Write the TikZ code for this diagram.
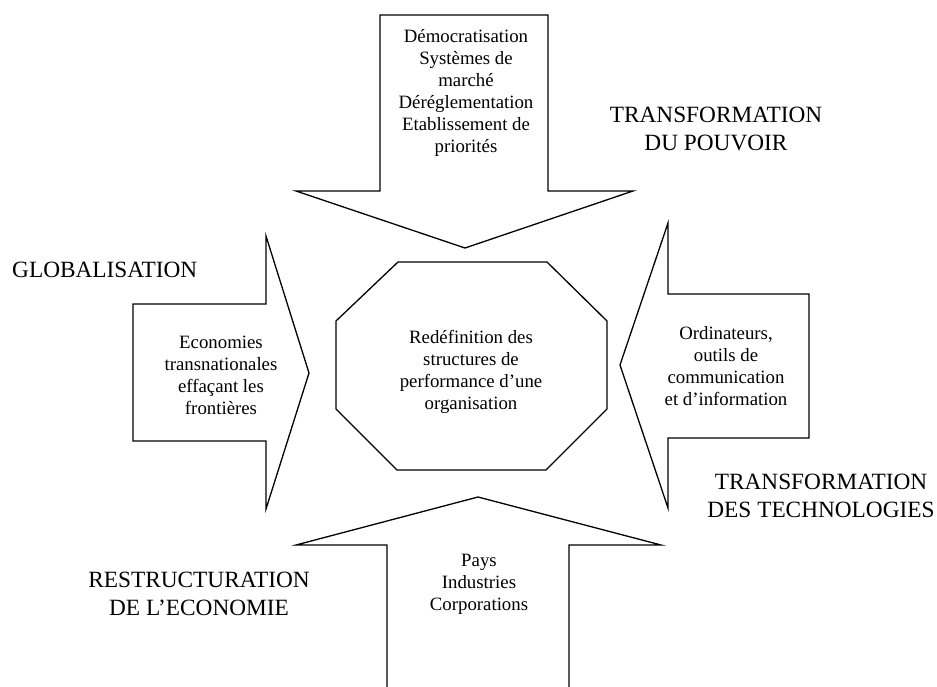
\documentclass[tikz,border=0pt]{standalone}
\usepackage{fontspec}
\setmainfont{Liberation Serif}
\usepackage{tikz}

\tikzset{
    outline/.style={line width=1.3pt, line join=miter},
    inner/.style={align=center, inner sep=0pt, font=\fontsize{18.8}{22}\selectfont},
    label/.style={align=center, inner sep=0pt, font=\fontsize{23.3}{28.5}\selectfont}
}

\begin{document}
\begin{tikzpicture}[x=1pt, y=-1pt]
        \useasboundingbox (0, 0) rectangle (937, 687);

        \draw [outline] (380, 15) -- (548, 15) -- (548, 191) -- (633, 191) -- (465, 248)
            -- (296, 191) -- (380, 191) -- cycle;
        \draw [outline] (133, 304) -- (266, 304) -- (266, 236) -- (309, 373) -- (266, 509)
            -- (266, 441) -- (133, 441) -- cycle;
        \draw [outline] (809, 294) -- (668, 294) -- (668, 223) -- (620, 365) -- (668, 508)
            -- (668, 438) -- (809, 438) -- cycle;
        \draw [outline] (387, 690) -- (387, 545) -- (296, 545) -- (478, 497) -- (661, 545)
            -- (569, 545) -- (569, 690);
        \draw [outline] (398, 262) -- (547, 262) -- (607, 321) -- (607, 409) -- (546, 470)
            -- (397, 470) -- (336, 409) -- (336, 321) -- cycle;

        \node [inner] (pouvoir) at (466, 93) {Démocratisation\\Systèmes de\\marché\\Déréglementation\\Etablissement de\\priorités};
        \node [inner] (global) at (221, 375) {Economies\\transnationales\\effaçant les\\frontières};
        \node [inner] (techno) at (726, 366) {Ordinateurs,\\outils de\\communication\\et d’information};
        \node [inner] (economie) at (479, 584) {Pays\\Industries\\Corporations};
        \node [inner] (centre) at (471, 372) {Redéfinition des\\structures de\\performance d’une\\organisation};

        \node [label] (tpouvoir) at (716, 129) {TRANSFORMATION\\DU POUVOIR};
        \node [label, anchor=base west] (tglobal) at (12, 277) {GLOBALISATION};
        \node [label] (ttechno) at (821, 496) {TRANSFORMATION\\DES TECHNOLOGIES};
        \node [label] (teconomie) at (199, 594) {RESTRUCTURATION\\DE L’ECONOMIE};
    \end{tikzpicture}
\end{document}
